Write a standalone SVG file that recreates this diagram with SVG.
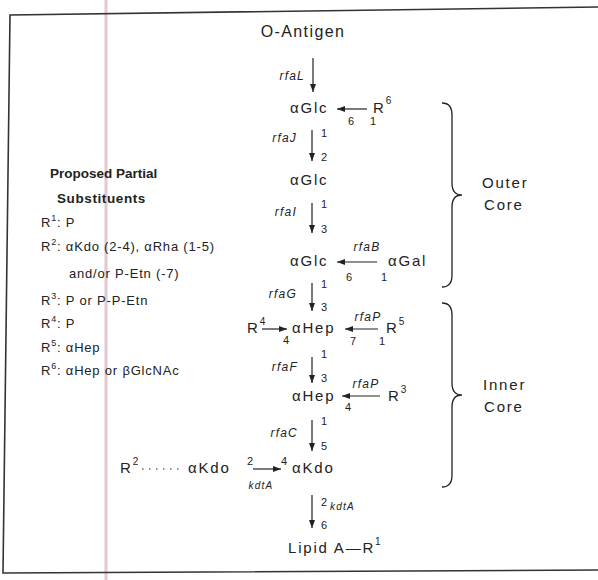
<svg xmlns="http://www.w3.org/2000/svg" width="598" height="580" viewBox="0 0 598 580">
<defs>
<style>
text{font-family:"Liberation Sans","DejaVu Sans",sans-serif;fill:#222}
.m{font-size:15px;letter-spacing:1.8px}
.g{font-size:12px;font-style:italic;letter-spacing:1.2px}
.n{font-size:11px}
.s{font-size:9px}
.l{font-size:13px;letter-spacing:0.8px}
.h{font-size:13.5px;font-weight:bold}
.ln{stroke:#222;stroke-width:1.2;fill:none}
.br{stroke:#222;stroke-width:1.3;fill:none}
.fr{stroke:#333;stroke-width:1.6;fill:none}
</style>
<marker id="ah" viewBox="0 0 8 6" refX="8" refY="3" markerWidth="8" markerHeight="6" markerUnits="userSpaceOnUse" orient="auto">
<path d="M0,0 L8,3 L0,6 z" fill="#222"/>
</marker>
</defs>
<rect width="598" height="580" fill="#fff"/>
<line x1="106" y1="0" x2="106" y2="580" stroke="#dcbcc4" stroke-width="3" opacity="0.8"/>
<g id="frame">
<path class="fr" d="M598,7 L10,15 L3,573 L598,570"/>
</g>

<g id="legend">
<text class="h" x="50" y="178">Proposed Partial</text>
<text class="h" x="57" y="203" style="letter-spacing:0.6px">Substituents</text>
<text class="l" x="41" y="227">R<tspan class="s" dy="-6">1</tspan><tspan dy="6">: P</tspan></text>
<text class="l" x="41" y="251">R<tspan class="s" dy="-6">2</tspan><tspan dy="6">: αKdo (2-4), αRha (1-5)</tspan></text>
<text class="l" x="69" y="278">and/or P-Etn (-7)</text>
<text class="l" x="41" y="305">R<tspan class="s" dy="-6">3</tspan><tspan dy="6">: P or P-P-Etn</tspan></text>
<text class="l" x="41" y="328">R<tspan class="s" dy="-6">4</tspan><tspan dy="6">: P</tspan></text>
<text class="l" x="41" y="352">R<tspan class="s" dy="-6">5</tspan><tspan dy="6">: αHep</tspan></text>
<text class="l" x="41" y="375">R<tspan class="s" dy="-6">6</tspan><tspan dy="6">: αHep or βGlcNAc</tspan></text>
</g>

<g id="n-oantigen"><text class="m" x="303" y="37" text-anchor="middle" style="font-size:16px;letter-spacing:1.4px">O-Antigen</text></g>
<g id="n-glc1"><text class="m" x="290" y="113">αGlc</text></g>
<g id="n-r6"><text class="m" x="373" y="113">R<tspan class="s" style="font-size:10px" dy="-9">6</tspan></text></g>
<g id="n-glc2"><text class="m" x="290" y="185">αGlc</text></g>
<g id="n-glc3"><text class="m" x="290" y="266">αGlc</text></g>
<g id="n-gal"><text class="m" x="388" y="266">αGal</text></g>
<g id="n-hep1"><text class="m" x="292" y="333">αHep</text></g>
<g id="n-r4"><text class="m" x="247" y="333">R<tspan class="s" style="font-size:10px" dy="-8">4</tspan></text></g>
<g id="n-r5"><text class="m" x="386" y="333">R<tspan class="s" style="font-size:10px" dy="-8">5</tspan></text></g>
<g id="n-hep2"><text class="m" x="292" y="401">αHep</text></g>
<g id="n-r3"><text class="m" x="388" y="401">R<tspan class="s" style="font-size:10px" dy="-8">3</tspan></text></g>
<g id="n-kdo2"><text class="m" x="292" y="473">αKdo</text></g>
<g id="n-kdo3"><text class="m" x="188" y="473">αKdo</text></g>
<g id="n-r2"><text class="m" x="120" y="473">R<tspan class="s" style="font-size:10px" dy="-8">2</tspan></text></g>
<g id="n-lipid"><text class="m" x="288" y="553">Lipid A—R<tspan class="s" style="font-size:10px" dy="-8">1</tspan></text></g>

<g id="connectors">
<line class="ln" x1="313" y1="58" x2="313" y2="92" marker-end="url(#ah)"/>
<line class="ln" x1="367" y1="109" x2="337" y2="109" marker-end="url(#ah)"/>
<line class="ln" x1="312" y1="130" x2="312" y2="161" marker-end="url(#ah)"/>
<line class="ln" x1="312" y1="203" x2="312" y2="233" marker-end="url(#ah)"/>
<line class="ln" x1="377" y1="262" x2="337" y2="262" marker-end="url(#ah)"/>
<line class="ln" x1="312" y1="283" x2="312" y2="311" marker-end="url(#ah)"/>
<line class="ln" x1="262" y1="329" x2="287" y2="329" marker-end="url(#ah)"/>
<line class="ln" x1="378" y1="329" x2="345" y2="329" marker-end="url(#ah)"/>
<line class="ln" x1="312" y1="357" x2="312" y2="383" marker-end="url(#ah)"/>
<line class="ln" x1="380" y1="396" x2="342" y2="396" marker-end="url(#ah)"/>
<line class="ln" x1="312" y1="420" x2="312" y2="451" marker-end="url(#ah)"/>
<line class="ln" x1="142" y1="469" x2="182" y2="469" stroke-dasharray="1.5 5.5"/>
<line class="ln" x1="253" y1="469" x2="281" y2="469" marker-end="url(#ah)"/>
<line class="ln" x1="312" y1="495" x2="312" y2="528" marker-end="url(#ah)"/>
<path class="br" d="M442,103 Q452,103 452,115 L452,183 Q452,195 462,195 Q452,195 452,207 L452,275 Q452,287 442,287"/>
<path class="br" d="M442,303 Q452,303 452,315 L452,383 Q452,395 462,395 Q452,395 452,407 L452,475 Q452,487 442,487"/>
</g>

<g id="labels">
<text class="g" x="305" y="80" text-anchor="end">rfaL</text>
<text class="n" x="348" y="125">6</text><text class="n" x="370" y="125">1</text>
<text class="g" x="297" y="142" text-anchor="end">rfaJ</text>
<text class="n" x="321" y="137">1</text><text class="n" x="321" y="161">2</text>
<text class="g" x="297" y="216" text-anchor="end">rfaI</text>
<text class="n" x="321" y="208">1</text><text class="n" x="321" y="233">3</text>
<text class="g" x="367" y="251" text-anchor="middle">rfaB</text>
<text class="n" x="346" y="281">6</text><text class="n" x="381" y="281">1</text>
<text class="g" x="297" y="298" text-anchor="end">rfaG</text>
<text class="n" x="321" y="288">1</text><text class="n" x="321" y="311">3</text>
<text class="n" x="283" y="344">4</text>
<text class="g" x="368" y="321" text-anchor="middle">rfaP</text>
<text class="n" x="350" y="345">7</text><text class="n" x="379" y="345">1</text>
<text class="g" x="298" y="371" text-anchor="end">rfaF</text>
<text class="n" x="321" y="358">1</text><text class="n" x="321" y="382">3</text>
<text class="g" x="366" y="388" text-anchor="middle">rfaP</text>
<text class="n" x="345" y="411">4</text>
<text class="g" x="298" y="437" text-anchor="end">rfaC</text>
<text class="n" x="321" y="425">1</text><text class="n" x="321" y="450">5</text>
<text class="n" x="247" y="465">2</text><text class="n" x="281" y="465">4</text>
<text class="g" x="261" y="489" text-anchor="middle" style="font-size:10px">kdtA</text>
<text class="n" x="321" y="506">2</text>
<text class="g" x="330" y="510" style="font-size:10px">kdtA</text>
<text class="n" x="321" y="529">6</text>
<text class="m" x="482" y="188">Outer</text>
<text class="m" x="484" y="210">Core</text>
<text class="m" x="483" y="390">Inner</text>
<text class="m" x="484" y="412">Core</text>
</g>
</svg>
